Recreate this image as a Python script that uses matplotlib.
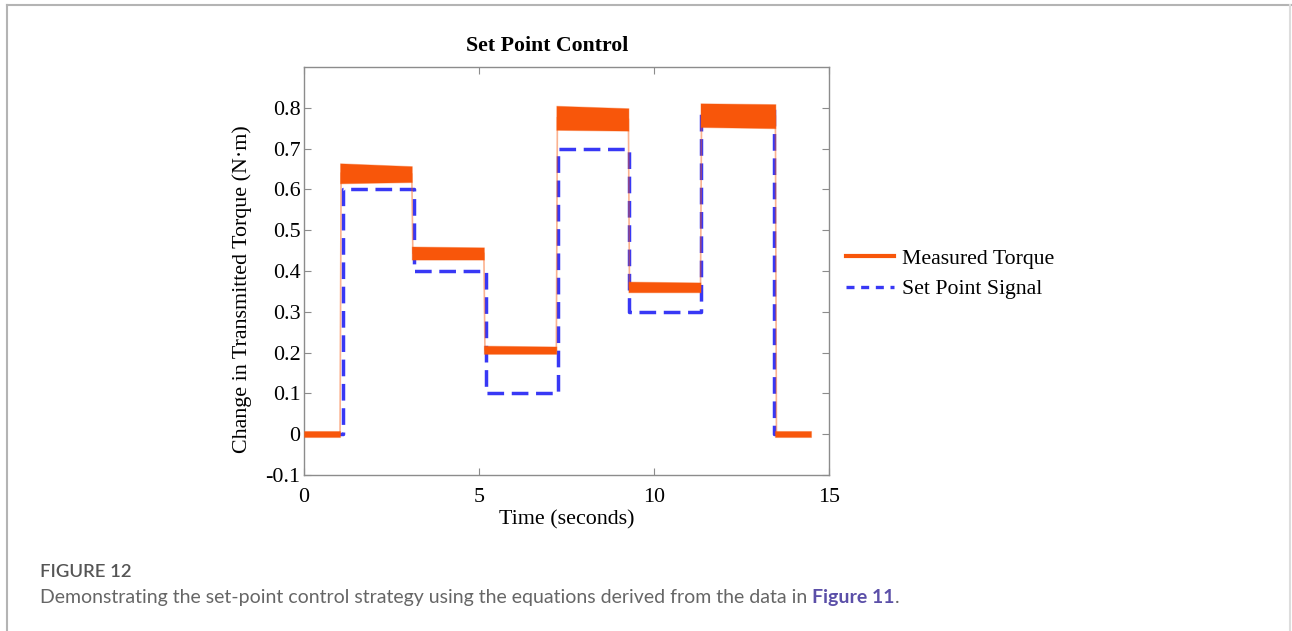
import matplotlib.pyplot as plt
from matplotlib.lines import Line2D

# measured torque: segment boundaries (s) and band limits at start/end of each segment (N·m)
seg_t = [0, 1.03, 3.08, 5.14, 7.21, 9.27, 11.33, 13.47, 14.5]
low_start = [-0.006, 0.615, 0.428, 0.197, 0.746, 0.348, 0.753, -0.006]
low_end = [-0.006, 0.618, 0.428, 0.197, 0.744, 0.348, 0.750, -0.006]
high_start = [0.008, 0.664, 0.460, 0.217, 0.805, 0.374, 0.811, 0.008]
high_end = [0.008, 0.657, 0.458, 0.215, 0.799, 0.372, 0.809, 0.008]

# set point signal
sp_t = [0, 1.1, 3.15, 5.2, 7.25, 9.3, 11.35, 13.42, 14.5]
sp_v = [0, 0.6, 0.4, 0.1, 0.7, 0.3, 0.8, 0]

orange = '#F8560A'
blue = '#3838F5'
serif = ['Liberation Serif', 'DejaVu Serif']

fig = plt.figure(figsize=(12.92, 6.31), dpi=100)
ax = fig.add_axes([0.2353, 0.2472, 0.4063, 0.6466])

# set point (drawn underneath)
ax.step(sp_t, sp_v + [sp_v[-1]], where='post', color=blue, lw=2.5,
        dashes=(4.8, 2.2), zorder=2)

# measured torque bands + thin transitions
for i in range(len(low_start)):
    t0, t1 = seg_t[i], seg_t[i + 1]
    ax.fill_between([t0, t1], [low_start[i], low_end[i]], [high_start[i], high_end[i]],
                    color=orange, lw=0.8, edgecolor=(0.97, 0.34, 0.04, 0.35), zorder=3)
    if i > 0:
        prev_mid = (low_end[i - 1] + high_end[i - 1]) / 2
        mid = (low_start[i] + high_start[i]) / 2
        ax.plot([t0, t0 + 0.03], [prev_mid, mid], color=orange, alpha=0.45, lw=1.2, zorder=3)

ax.set_xlim(0, 15)
ax.set_ylim(-0.1, 0.9)
ax.set_xticks([0, 5, 10, 15])
ax.set_yticks([-0.1, 0, 0.1, 0.2, 0.3, 0.4, 0.5, 0.6, 0.7, 0.8])
ax.set_yticklabels(['-0.1', '0', '0.1', '0.2', '0.3', '0.4', '0.5', '0.6', '0.7', '0.8'])
ax.tick_params(direction='in', length=5, top=True, right=True, color='#8c8c8c',
               labelsize=15.8)
ax.tick_params(axis='x', pad=9)
ax.tick_params(axis='y', pad=2.5)
for lab in ax.get_xticklabels() + ax.get_yticklabels():
    lab.set_family(serif)
for s in ax.spines.values():
    s.set_color('#8c8c8c')
    s.set_linewidth(1)

ax.set_xlabel('Time (seconds)', fontsize=15.8, family=serif, labelpad=3)
ax.set_ylabel('Change in Transmitted Torque (N·m)', fontsize=15.8, family=serif)
ax.yaxis.set_label_coords(-(304 - 252) / 525, (475 - 289) / 408)
fig.text(547 / 1292, 1 - 46 / 631, 'Set Point Control', ha='center', va='center',
         fontsize=15.7, fontweight='bold', family=serif)

handles = [Line2D([], [], color=orange, lw=3),
           Line2D([], [], color=blue, lw=2.4, dashes=(2.4, 2.0))]
fig.legend(handles, ['Measured Torque', 'Set Point Signal'], loc='center left',
           bbox_to_anchor=(826 / 1292, 1 - 274 / 631), frameon=False,
           prop={'family': serif, 'size': 15.7}, handlelength=2.2, handletextpad=0.4,
           labelspacing=0.48)

# page frame
fig.add_artist(Line2D([7 / 1292, 1], [1 - 5 / 631] * 2, color='#b4b4b4', lw=1.5))
fig.add_artist(Line2D([7 / 1292] * 2, [0, 1 - 5 / 631], color='#b4b4b4', lw=1.5))
fig.add_artist(Line2D([1290 / 1292] * 2, [0, 1 - 5 / 631], color='#dddddd', lw=1.5))

# caption, pieces share one baseline
fig.text(40 / 1292, 1 - 577 / 631, 'FIGURE 12', ha='left', va='baseline',
         fontsize=13.3, color='#555555', family='Lato', fontweight='semibold')
base = 1 - 603 / 631
cap = fig.text(40 / 1292, base,
               'Demonstrating the set-point control strategy using the equations derived from the data in ',
               ha='left', va='baseline', fontsize=14, color='#666666', family='Lato')
fig.canvas.draw()
bb = cap.get_window_extent()
ref = fig.text(bb.x1 / fig.bbox.width, base, 'Figure 11', ha='left', va='baseline',
               fontsize=14, color='#5B4FA8', family='Lato', fontweight='bold')
fig.canvas.draw()
bb2 = ref.get_window_extent()
fig.text(bb2.x1 / fig.bbox.width, base, '.', ha='left', va='baseline',
         fontsize=14, color='#666666', family='Lato')

plt.savefig('out.png', dpi=100)
